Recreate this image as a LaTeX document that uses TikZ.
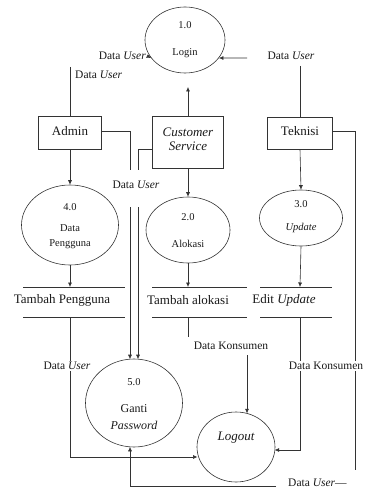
\documentclass[tikz,border=0pt]{standalone}
\usepackage{fontspec}
\setmainfont{Liberation Serif}
\usetikzlibrary{shapes.geometric,arrows.meta}
\begin{document}
\begin{tikzpicture}[x=1pt,y=-1pt,
 ln/.style={draw=black!80,line width=0.6pt},
 arr/.style={ln,-{Latex[length=4.5pt,width=4pt]}},
 proc/.style={ellipse,draw=black!80,line width=0.6pt,inner sep=0pt},
 ent/.style={rectangle,draw=black!80,line width=0.6pt,inner sep=0pt},
 big/.style={font=\fontsize{13}{15}\selectfont,inner sep=1pt,text=black!90},
 flow/.style={font=\fontsize{11.5}{13}\selectfont,fill=white,inner sep=1pt,text=black!90},
 small/.style={font=\fontsize{10.5}{12}\selectfont,inner sep=0pt,text=black!90},
 mid/.style={font=\fontsize{12}{14}\selectfont,inner sep=0pt,text=black!90},
]
\useasboundingbox (0,0) rectangle (368,489);

% ---------- processes ----------
\node[proc,minimum width=80pt,minimum height=66pt] (p1) at (185,40) {};
\node[small] (p1n) at (185,25) {1.0};
\node[small] (p1t) at (185,53) {Login};

\node[proc,minimum width=97pt,minimum height=80pt] (p4) at (70,225) {};
\node[small] (p4n) at (70,207) {4.0};
\node[small] (p4a) at (70,228) {Data};
\node[small] (p4b) at (70,244) {Pengguna};

\node[proc,minimum width=84pt,minimum height=66pt] (p2) at (188,230) {};
\node[small] (p2n) at (188,217) {2.0};
\node[small] (p2t) at (188,244) {Alokasi};

\node[proc,minimum width=83pt,minimum height=56pt] (p3) at (301,218) {};
\node[small] (p3n) at (301,204) {3.0};
\node[small] (p3t) at (301,228) {\itshape Update};

\node[proc,minimum width=97pt,minimum height=88pt] (p5) at (134,403) {};
\node[small] (p5n) at (134,382) {5.0};
\node[mid] (p5a) at (134,409) {Ganti};
\node[mid] (p5b) at (134,425) {\itshape Password};

\node[proc,minimum width=78pt,minimum height=70pt] (pl) at (236,447) {};
\node[mid,font=\fontsize{13}{15}\selectfont] (plt) at (236,438) {\itshape Logout};

% ---------- entities ----------
\node[ent,minimum width=63pt,minimum height=33pt] (e1) at (70,132.5) {};
\node[big] (e1t) at (70,131) {Admin};
\node[ent,minimum width=71pt,minimum height=52pt] (e2) at (188,142) {};
\node[big,align=center] (e2t) at (188,139) {\itshape Customer\\[-1pt]\itshape Service};
\node[ent,minimum width=65pt,minimum height=32pt] (e3) at (300,133) {};
\node[big] (e3t) at (300,131) {Teknisi};

% ---------- data stores ----------
\coordinate (s1a) at (23,287); \coordinate (s1b) at (125,287);
\coordinate (s1c) at (23,317); \coordinate (s1d) at (125,317);
\draw[ln] (s1a) -- (s1b); \draw[ln] (s1c) -- (s1d);
\node[big] (s1t) at (62,300) {Tambah Pengguna};

\coordinate (s2a) at (152,287); \coordinate (s2b) at (247,287);
\coordinate (s2c) at (152,317); \coordinate (s2d) at (247,317);
\draw[ln] (s2a) -- (s2b); \draw[ln] (s2c) -- (s2d);
\node[big] (s2t) at (188,300) {Tambah alokasi};

\coordinate (s3a) at (260,287); \coordinate (s3b) at (332,287);
\coordinate (s3c) at (260,317); \coordinate (s3d) at (332,317);
\draw[ln] (s3a) -- (s3b); \draw[ln] (s3c) -- (s3d);
\node[big] (s3t) at (284,300) {Edit \textit{Update}};

% ---------- flows around Login ----------
\node[flow,anchor=east] (fu1) at (147,56) {Data \textit{User}};
\draw[arr] (fu1.east) -- (p1.208);
\coordinate (r1) at (247,58);
\draw[arr] (r1) -- (p1.332);
\node[flow] (fu2) at (291,56) {Data \textit{User}};
\coordinate (tk) at (300,66);
\draw[ln] (tk) -- (e3.north);
\node[flow,anchor=west] (fu3) at (74,75) {Data \textit{User}};
\coordinate (ad0) at (70,67);
\draw[ln] (ad0) -- (e1.north);
\coordinate (cs0) at (188,87);
\draw[arr] (e2.north) -- (cs0);

% ---------- entity to process ----------
\draw[arr] (e1.south) -- (p4.north);
\draw[arr] (e2.south) -- (p2.north);
\draw[arr] (e3.south) -- (p3.north);

% ---------- processes to stores ----------
\coordinate (s1m) at (70,287);
\draw[arr] (p4.south) -- (s1m);
\coordinate (s2m) at (188,287);
\draw[arr] (p2.south) -- (s2m);
\coordinate (s3m) at (300,287);
\draw[arr] (p3.south) -- (s3m);

% ---------- Admin / CS to Ganti Password ----------
\coordinate (ae) at (102,131); \coordinate (a1) at (130,170);
\draw[ln] (ae) -| (a1);
\coordinate (ce) at (152,149); \coordinate (c1) at (138,170);
\draw[ln] (ce) -| (c1);
\node[flow,fill=none] (fu4) at (136,185) {Data \textit{User}};
\coordinate (a2) at (130,207); \coordinate (c2) at (138,207);
\coordinate (a3) at (130,359.2); \coordinate (c3) at (138,359.2);
\draw[arr] (a2) -- (a3);
\draw[arr] (c2) -- (c3);

% ---------- stores to Logout ----------
\coordinate (s1e) at (70,317); \coordinate (s1f) at (70,457);
\coordinate (lw) at (197.5,457);
\draw[arr] (s1e) -- (s1f) -- (lw);
\node[flow] (fu5) at (67,366) {Data \textit{User}};

\coordinate (s2e) at (188,317); \coordinate (s2f) at (188,337);
\draw[ln] (s2e) -- (s2f);
\node[flow] (fk1) at (231,346) {Data Konsumen};
\coordinate (k1) at (247,355); \coordinate (k2) at (247,413.4);
\draw[arr] (k1) -- (k2);

\coordinate (te) at (332,131); \coordinate (t1) at (355,470);
\draw[ln] (te) -| (t1);

\coordinate (s3e) at (300,317); \coordinate (s3f) at (300,450);
\coordinate (lr) at (274.6,450);
\draw[arr] (s3e) -- (s3f) -- (lr);
\node[flow] (fk2) at (326,366) {Data Konsumen};

% ---------- Teknisi to Ganti Password ----------
\node[flow,anchor=west] (fu6) at (287,483) {Data \textit{User}—};
\coordinate (b1) at (276,486); \coordinate (b2) at (130,486);
\coordinate (b3) at (130,446.8);
\draw[arr] (b1) -- (b2) -- (b3);
\end{tikzpicture}
\end{document}
